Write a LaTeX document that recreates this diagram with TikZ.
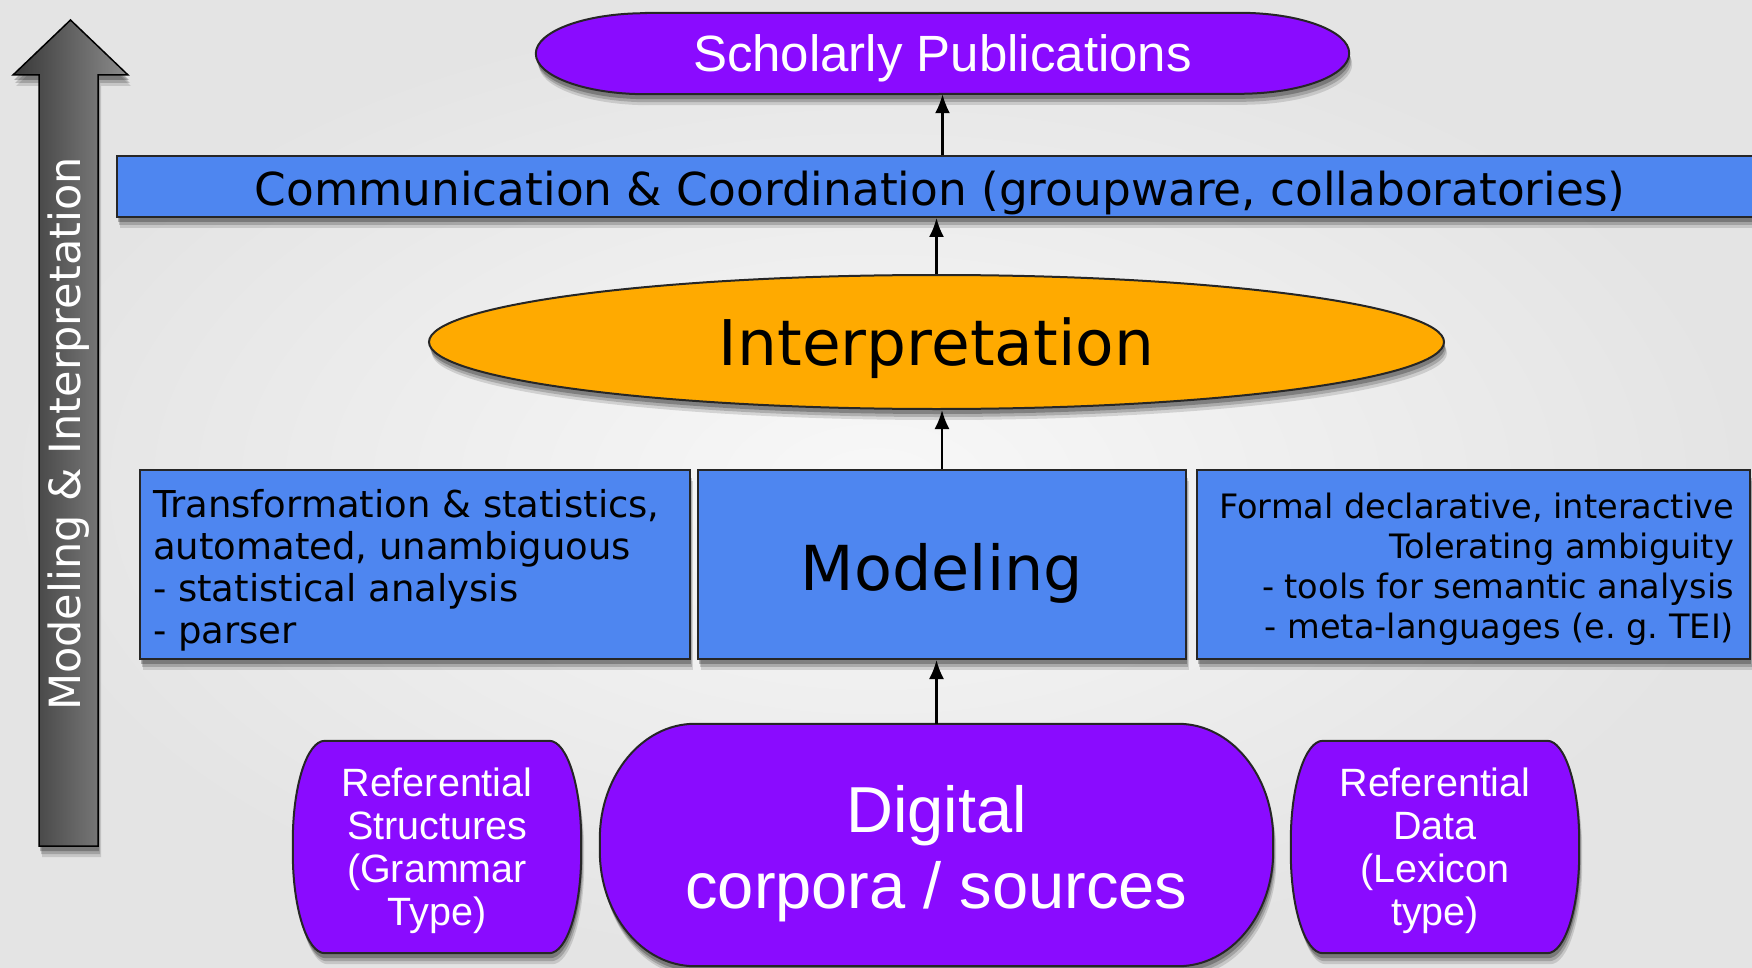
\documentclass[tikz,border=0pt]{standalone}
\usepackage{fontspec}
\setmainfont{DejaVu Sans}
\newfontfamily\helv{Liberation Sans}
\usetikzlibrary{arrows.meta,shapes.geometric,shadows}
\definecolor{purp}{RGB}{138,11,255}
\definecolor{boxblue}{RGB}{78,134,240}
\definecolor{orng}{RGB}{255,170,0}
\definecolor{bgin}{RGB}{248,248,248}
\definecolor{bgout}{RGB}{228,228,228}
\definecolor{arrdark}{RGB}{55,55,55}
\definecolor{arrlight}{RGB}{140,140,140}
\newcommand\lowr[2]{\raisebox{-#1}[\height][\depth]{#2}}
\pgfdeclarelayer{back}
\pgfdeclarelayer{shapes}
\pgfsetlayers{back,shapes,main}
\begin{document}
\begin{tikzpicture}[x=1pt,y=-1pt,
  softshadow/.style={
    drop shadow={shadow xshift=3pt,shadow yshift=-11pt,opacity=.13,fill=black},
    drop shadow={shadow xshift=2pt,shadow yshift=-8pt,opacity=.18,fill=black},
    drop shadow={shadow xshift=1pt,shadow yshift=-5pt,opacity=.25,fill=black}},
  bluebox/.style={rectangle, draw=black!85, line width=2pt, fill=boxblue,
    inner sep=0pt, minimum height=189pt, softshadow},
  conn/.style={line width=2.2pt, draw=black, -{Latex[length=19pt,width=15pt]}},
  purptext/.style={text=white, inner sep=0pt, align=center,
    font=\helv\fontsize{39.5}{43}\selectfont},
  shapeline/.style={draw=black!85, line width=2pt, fill=purp, softshadow}]

\begin{pgfonlayer}{back}
  \shade[inner color=bgin, outer color=bgout] (0,0) rectangle (1752,968);
\end{pgfonlayer}
\useasboundingbox (0,0) rectangle (1752,968);

% vertical axis arrow
\shade[left color=arrdark, right color=arrlight, draw=black, line width=1.5pt, softshadow]
  (39,846) -- (39,75) -- (13,75) -- (70.5,20) -- (128,75) -- (98,75) -- (98,846) -- cycle;
\node[rotate=90, text=white, inner sep=0pt, font=\fontsize{43}{50}\selectfont] (axis) at (69,434)
  {Modeling \& Interpretation};

% scholarly publications
\node[purptext, minimum width=813pt, minimum height=81pt, font=\helv\fontsize{51}{60}\selectfont]
  (pub) at (942.5,53.5) {\lowr{5pt}{Scholarly Publications}};

% communication bar
\node[rectangle, draw=black!85, line width=2pt, fill=boxblue, inner sep=0pt,
  minimum width=1646pt, minimum height=61pt, softshadow, font=\fontsize{45.4}{54}\selectfont]
  (comm) at (940,186.5) {\lowr{6pt}{Communication \& Coordination (groupware, collaboratories)}};

% interpretation
\node[ellipse, draw=black!85, line width=2pt, fill=orng, inner sep=0pt,
  minimum width=1015pt, minimum height=134pt, softshadow, font=\fontsize{63}{70}\selectfont]
  (interp) at (936.5,342) {\lowr{6pt}{Interpretation}};

% modeling row
\node[bluebox, minimum width=550pt, font=\fontsize{37}{42}\selectfont] (trans) at (415,564.5)
  {\lowr{6pt}{\parbox{524pt}{\raggedright Transformation \& statistics,\\automated, unambiguous\\- statistical analysis\\- parser}}};
\node[bluebox, minimum width=488pt, font=\fontsize{62}{70}\selectfont] (model) at (942,564.5)
  {\lowr{9pt}{Modeling}};
\node[bluebox, minimum width=553pt, font=\fontsize{33.6}{40}\selectfont] (formal) at (1473.5,564.5)
  {\lowr{5pt}{\parbox{521pt}{\raggedleft Formal declarative, interactive\\Tolerating ambiguity\\- tools for semantic analysis\\- meta-languages (e.\ g.\ TEI)}}};

% bottom row
\node[purptext, minimum width=288pt, minimum height=212pt] (rs) at (437,847)
  {\lowr{5pt}{\begin{tabular}{@{}c@{}}Referential\\Structures\\(Grammar\\Type)\end{tabular}}};
\node[purptext, minimum width=673pt, minimum height=242pt, font=\helv\fontsize{65}{76}\selectfont]
  (dig) at (936.5,845) {\lowr{10pt}{\begin{tabular}{@{}c@{}}Digital\\corpora / sources\end{tabular}}};
\node[purptext, minimum width=288pt, minimum height=212pt] (rd) at (1435,847)
  {\lowr{5pt}{\begin{tabular}{@{}c@{}}Referential\\Data\\(Lexicon\\type)\end{tabular}}};

\begin{pgfonlayer}{shapes}
  \path[shapeline] ([xshift=110pt]pub.north west) -- ([xshift=-110pt]pub.north east)
    arc[start angle=90,end angle=-90,x radius=110pt,y radius=40.5pt]
    -- ([xshift=110pt]pub.south west)
    arc[start angle=270,end angle=90,x radius=110pt,y radius=40.5pt] -- cycle;
  \foreach \n/\rx/\ry in {rs/32/100, rd/32/100, dig/95/115}{
    \path[shapeline] ([xshift=\rx pt]\n.north west) -- ([xshift=-\rx pt]\n.north east)
      arc[start angle=90,end angle=0,x radius=\rx pt,y radius=\ry pt]
      -- ([yshift=\ry pt]\n.south east)
      arc[start angle=0,end angle=-90,x radius=\rx pt,y radius=\ry pt]
      -- ([xshift=\rx pt]\n.south west)
      arc[start angle=270,end angle=180,x radius=\rx pt,y radius=\ry pt]
      -- ([yshift=-\ry pt]\n.north west)
      arc[start angle=180,end angle=90,x radius=\rx pt,y radius=\ry pt] -- cycle;
  }
\end{pgfonlayer}

% connectors
\draw[conn] (dig.north) -- (dig.north |- model.south);
\draw[conn] (model.north) -- (model.north |- interp.south);
\draw[conn] (interp.north) -- (interp.north |- comm.south);
\draw[conn] (pub.south |- comm.north) -- (pub.south);
\end{tikzpicture}
\end{document}
